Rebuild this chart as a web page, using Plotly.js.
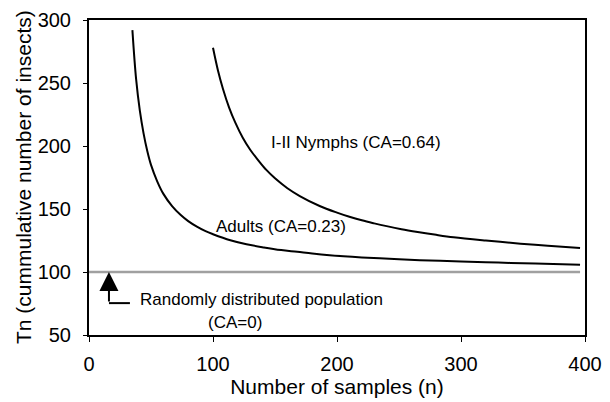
<!DOCTYPE html>
<html>
<head>
<meta charset="utf-8">
<script src="https://cdn.plot.ly/plotly-3.0.1.min.js"></script>
<style>
  html, body { margin: 0; padding: 0; background: #ffffff; }
  #chart { width: 610px; height: 402px; }
</style>
</head>
<body>
<div id="chart"></div>
<script>
// Stop lines (Tn) against number of samples for the two life stages
const adultsN = [35, 38, 41, 44, 47, 50, 55, 60, 67, 74, 80, 87, 94, 100, 114, 127, 141, 155, 168, 180, 194, 220, 250, 275, 300, 330, 360, 396];
const adultsTn = [292, 253, 228, 210, 196, 185, 172, 162, 152.3, 145.2, 140.4, 136, 132.4, 130, 125.2, 122, 119.5, 117.4, 116, 114.6, 113.3, 111.6, 110.1, 109.1, 108.4, 107.5, 106.7, 105.8];

const nymphsN = [100, 104, 108, 113, 118, 124, 130, 137, 143, 150, 160, 170, 186, 200, 210, 220, 230, 240, 252, 265, 280, 294, 320, 348, 370, 396];
const nymphsTn = [278, 260, 245.5, 230.5, 218.5, 206.5, 197, 188, 181, 174.4, 166.5, 160.3, 152.4, 147.1, 143.8, 141, 138.6, 136.4, 134, 131.8, 129.5, 127.6, 125, 122.5, 120.8, 119];

// Random distribution reference (CA = 0)
const randomN = [0, 396];
const randomTn = [100, 100];

// Label positions (n, Tn)
const labels = [
  { text: 'I-II Nymphs (CA=0.64)', n: 145.4, tn: 202.5, anchor: 'left' },
  { text: 'Adults (CA=0.23)', n: 101, tn: 136, anchor: 'left' },
  { text: 'Randomly distributed population', n: 39.8, tn: 78.4, anchor: 'left' },
  { text: '(CA=0)', n: 117.5, tn: 59.8, anchor: 'center' }
];

// Pointer from the random-population label up to the reference line
const pointer = { n: 16.1, tip: 100, base: 75.3, elbowN: 33 };

const FONT = 'Arial, "Liberation Sans", sans-serif';
const Y_TITLE = 'Tn (cummulative number of insects)';

const traces = [
  { x: randomN, y: randomTn, mode: 'lines', line: { color: '#a0a0a0', width: 2.6 }, hoverinfo: 'skip' },
  { x: adultsN, y: adultsTn, mode: 'lines', line: { color: '#000000', width: 2, shape: 'spline', smoothing: 1 }, name: 'Adults' },
  { x: nymphsN, y: nymphsTn, mode: 'lines', line: { color: '#000000', width: 2, shape: 'spline', smoothing: 1 }, name: 'I-II Nymphs' }
];

const annotations = labels.map(l => ({
  x: l.n, y: l.tn, xref: 'x', yref: 'y', text: l.text, showarrow: false,
  xanchor: l.anchor, yanchor: 'middle', font: { family: FONT, size: 17, color: '#000' }
}));
annotations.push({
  x: pointer.n, y: pointer.tip, ax: pointer.n, ay: pointer.base,
  xref: 'x', yref: 'y', axref: 'x', ayref: 'y', text: '', showarrow: true,
  arrowhead: 2, arrowsize: 1.9, arrowwidth: 2, arrowcolor: '#000', standoff: 0, startstandoff: 0
});
// Vertical axis title, placed beside the tick labels
annotations.push({
  x: -0.132, y: 0.5, xref: 'paper', yref: 'paper', text: Y_TITLE, textangle: -90,
  showarrow: false, xanchor: 'center', yanchor: 'middle',
  font: { family: FONT, size: 21, color: '#000' }
});

const layout = {
  width: 610, height: 402,
  margin: { l: 89, r: 25, t: 20, b: 67 },
  paper_bgcolor: '#ffffff', plot_bgcolor: '#ffffff',
  showlegend: false,
  font: { family: FONT, color: '#000' },
  xaxis: {
    range: [0, 400], dtick: 100, tick0: 0,
    showgrid: false, zeroline: false,
    showline: true, linecolor: '#000', linewidth: 2, mirror: true,
    ticks: 'outside', ticklen: 5, tickwidth: 1, tickcolor: '#000',
    ticklabelstandoff: 5,
    tickfont: { family: FONT, size: 20, color: '#000' },
    title: { text: 'Number of samples (n)', font: { family: FONT, size: 21, color: '#000' }, standoff: 4 }
  },
  yaxis: {
    range: [50, 300], dtick: 50, tick0: 50,
    showgrid: false, zeroline: false,
    showline: true, linecolor: '#000', linewidth: 2, mirror: true,
    ticks: 'outside', ticklen: 4, tickwidth: 1, tickcolor: '#000',
    ticklabelstandoff: 8,
    tickfont: { family: FONT, size: 20, color: '#000' }
  },
  shapes: [
    { type: 'line', xref: 'x', yref: 'y', x0: pointer.n, y0: pointer.base, x1: pointer.elbowN, y1: pointer.base,
      line: { color: '#000', width: 2 } }
  ],
  annotations: annotations
};

Plotly.newPlot('chart', traces, layout, { staticPlot: true, displayModeBar: false });
</script>
</body>
</html>
